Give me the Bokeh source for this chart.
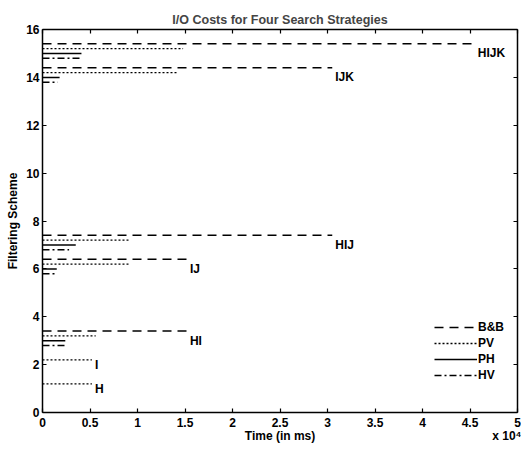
import numpy as np
from bokeh.plotting import figure
from bokeh.models import ColumnDataSource, FixedTicker, LinearAxis, Range1d
from bokeh.core.properties import value
from bokeh.embed import file_html
from bokeh.resources import INLINE

# ---- data (times in ms) ----
schemes = ["H", "I", "HI", "IJ", "HIJ", "IJK", "HIJK"]
scheme_y = [1, 2, 3, 6, 7, 14, 15]
bb_ms = [np.nan, np.nan, 15200, 15200, 30500, 30500, 45500]
pv_ms = [5200, 5200, 5600, 9200, 9200, 14300, 14800]
ph_ms = [np.nan, np.nan, 2400, 1500, 3500, 1800, 4100]
hv_ms = [np.nan, np.nan, 2500, 1300, 2800, 1600, 4000]

strategies = ["B&B", "PV", "PH", "HV"]
strategy_values = [bb_ms, pv_ms, ph_ms, hv_ms]

x_ticks = [0, 5000, 10000, 15000, 20000, 25000, 30000, 35000, 40000, 45000, 50000]
x_tick_labels = ["0", "0.5", "1", "1.5", "2", "2.5", "3", "3.5", "4", "4.5", "5"]
y_ticks = [0, 2, 4, 6, 8, 10, 12, 14, 16]
x_title = "Time (in ms)"
x_multiplier = "x 10\u2074"

# ---- style ----
FONT = "Liberation Sans"
offsets = [0.4, 0.2, 0.0, -0.2]
dashes = ["9 6", "2 2", "solid", "7 3 2 3"]
widths = [1.5, 1.3, 1.5, 1.5]

p = figure(width=521, height=449, output_backend="svg", toolbar_location=None,
           x_range=Range1d(0, 50000), y_range=Range1d(0, 16),
           min_border_left=42, min_border_right=4, min_border_top=29, min_border_bottom=37,
           title="I/O Costs for Four Search Strategies")
p.grid.visible = False
p.outline_line_color = None
p.background_fill_color = "white"
p.border_fill_color = "white"

p.title.align = "center"
p.title.offset = 4
p.title.text_font = FONT
p.title.text_font_style = "bold"
p.title.text_font_size = "12.5px"
p.title.standoff = 6

def style_axis(ax):
    ax.axis_line_color = "black"
    ax.axis_line_width = 1.5
    ax.major_tick_line_color = "black"
    ax.major_tick_line_width = 1.2
    ax.major_tick_in = 4
    ax.major_tick_out = 0
    ax.minor_tick_line_color = None
    ax.major_label_text_font = FONT
    ax.major_label_text_font_style = "bold"
    ax.major_label_text_color = "black"
    ax.major_label_text_font_size = "12px"
    ax.axis_label_text_font = FONT
    ax.axis_label_text_font_style = "bold"
    ax.axis_label_text_font_size = "12px"
    ax.axis_label_text_color = "black"

def box_axis(ax):
    # unlabelled frame side: inward ticks only (drawn as minor ticks, so no labels)
    ax.axis_line_color = "black"
    ax.axis_line_width = 1.5
    ax.major_tick_line_color = None
    ax.major_label_text_font_size = "0px"
    ax.major_label_standoff = 0
    ax.minor_tick_line_color = "black"
    ax.minor_tick_line_width = 1.2
    ax.minor_tick_in = 4
    ax.minor_tick_out = 0

xa = p.xaxis[0]
ya = p.yaxis[0]
xa.ticker = FixedTicker(ticks=x_ticks)
xa.major_label_overrides = {t: l for t, l in zip(x_ticks, x_tick_labels)}
ya.ticker = FixedTicker(ticks=y_ticks)
ya.axis_label = "Filtering Scheme"
style_axis(xa)
style_axis(ya)
xa.major_label_standoff = 5
ya.major_label_standoff = 3
ya.axis_label_standoff = 3

# second row under the x axis: axis title (centred) and the x10^4 multiplier (right)
row2_pos = [25000, 48900]
row2 = LinearAxis(ticker=FixedTicker(ticks=row2_pos),
                  major_label_overrides={row2_pos[0]: x_title, row2_pos[1]: x_multiplier})
style_axis(row2)
row2.axis_line_color = None
row2.major_tick_line_color = None
row2.major_label_standoff = -1
p.add_layout(row2, "below")

top = LinearAxis(ticker=FixedTicker(ticks=[], minor_ticks=x_ticks))
right = LinearAxis(ticker=FixedTicker(ticks=[], minor_ticks=y_ticks))
box_axis(top)
box_axis(right)
p.add_layout(top, "above")
p.add_layout(right, "right")

# ---- lines ----
for name, vals, off, dash, lw in zip(strategies, strategy_values, offsets, dashes, widths):
    ys, xs = [], []
    for y, v in zip(scheme_y, vals):
        if not np.isnan(v):
            ys.append(y + off)
            xs.append(v)
    src = ColumnDataSource(dict(x0=[0] * len(xs), x1=xs, y=ys))
    p.segment(x0="x0", y0="y", x1="x1", y1="y", source=src, line_color="black",
              line_width=lw, line_dash=dash, legend_label=name)

# ---- scheme labels ----
label_x = [np.nanmax([v[i] for v in strategy_values]) for i in range(len(schemes))]
lsrc = ColumnDataSource(dict(x=label_x, y=scheme_y, t=schemes))
p.text(x="x", y="y", text="t", source=lsrc, x_offset=3, text_baseline="middle",
       text_align="left", text_font=value(FONT), text_font_style="bold",
       text_font_size="12px", text_color="black")

# ---- legend ----
lg = p.legend[0]
lg.location = (392, 29)
lg.glyph_width = 43
lg.glyph_height = 16
lg.label_height = 16
lg.spacing = 0
lg.padding = 0
lg.margin = 0
lg.label_standoff = 1
lg.border_line_alpha = 0
lg.background_fill_alpha = 0
lg.label_text_font = FONT
lg.label_text_font_style = "bold"
lg.label_text_font_size = "12px"
lg.label_text_color = "black"

open("out.html", "w").write(file_html(p, INLINE))
